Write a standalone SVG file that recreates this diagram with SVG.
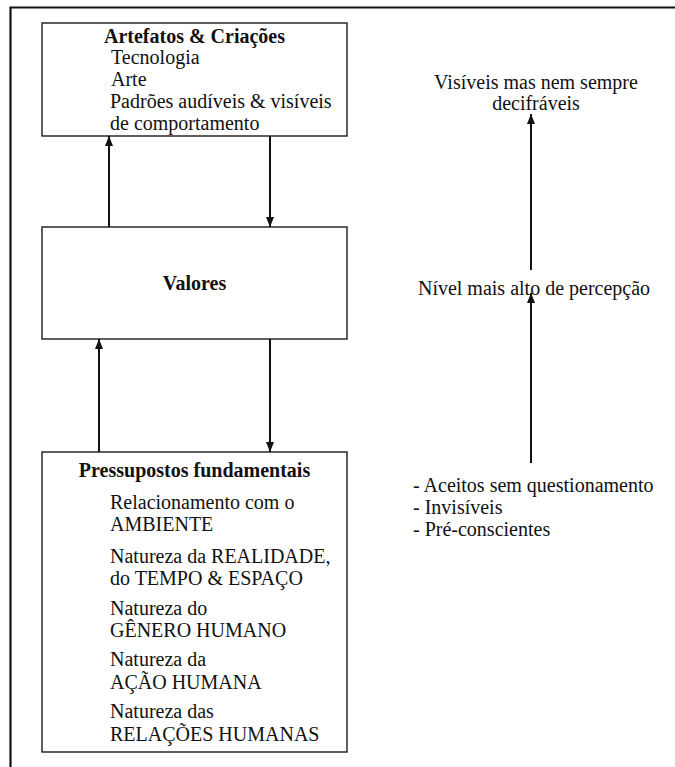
<svg xmlns="http://www.w3.org/2000/svg" width="675" height="767" viewBox="0 0 675 767">
<style>
  .box { fill: #ffffff; stroke: #1a1a1a; stroke-width: 1.4; }
  .frame { stroke: #111; stroke-width: 2.2; fill: none; }
  .t { font-family: "Liberation Serif", "Times New Roman", serif; font-size: 20px; fill: #111; }
  .b { font-weight: bold; }
  .m { text-anchor: middle; }
  .conn { stroke: #111; stroke-width: 2; fill: none; marker-end: url(#ah); }
</style>
<defs>
  <marker id="ah" viewBox="0 0 10 10" refX="10" refY="5" markerWidth="10" markerHeight="10" markerUnits="userSpaceOnUse" orient="auto">
    <path d="M0,1 L10,5 L0,9 Z" fill="#111"/>
  </marker>
</defs>
<rect width="675" height="767" fill="#ffffff"/>
<g id="frame">
  <path class="frame" d="M10.5,767 L10.5,7.5 L675,7.5"/>
</g>
<g id="artefatos">
  <rect class="box" x="42" y="23" width="305" height="113"/>
  <text class="t b m" x="194.5" y="42.5">Artefatos &amp; Criações</text>
  <text class="t" x="111" y="64">Tecnologia</text>
  <text class="t" x="111" y="86">Arte</text>
  <text class="t" x="110" y="108">Padrões audíveis &amp; visíveis</text>
  <text class="t" x="110" y="130">de comportamento</text>
</g>
<g id="valores">
  <rect class="box" x="42" y="227" width="305" height="112"/>
  <text class="t b m" x="194.5" y="290">Valores</text>
</g>
<g id="pressupostos">
  <rect class="box" x="42" y="452" width="305" height="300"/>
  <text class="t b m" x="194.5" y="477">Pressupostos fundamentais</text>
  <text class="t" x="110" y="509">Relacionamento com o</text>
  <text class="t" x="110" y="531">AMBIENTE</text>
  <text class="t" x="110" y="563">Natureza da REALIDADE,</text>
  <text class="t" x="110" y="585">do TEMPO &amp; ESPAÇO</text>
  <text class="t" x="110" y="615">Natureza do</text>
  <text class="t" x="110" y="637">GÊNERO HUMANO</text>
  <text class="t" x="110" y="666">Natureza da</text>
  <text class="t" x="110" y="689">AÇÃO HUMANA</text>
  <text class="t" x="110" y="718">Natureza das</text>
  <text class="t" x="110" y="741">RELAÇÕES HUMANAS</text>
</g>
<g id="visiveis">
  <text class="t m" x="536" y="89">Visíveis mas nem sempre</text>
  <text class="t m" x="536" y="110">decifráveis</text>
</g>
<g id="nivel">
  <text class="t m" x="534" y="295">Nível mais alto de percepção</text>
</g>
<g id="aceitos">
  <text class="t" x="413" y="492">- Aceitos sem questionamento</text>
  <text class="t" x="413" y="514">- Invisíveis</text>
  <text class="t" x="413" y="536">- Pré-conscientes</text>
</g>
<g id="connectors">
  <line class="conn" x1="109" y1="227" x2="109" y2="136"/>
  <line class="conn" x1="270" y1="136" x2="270" y2="227"/>
  <line class="conn" x1="99" y1="452" x2="99" y2="339"/>
  <line class="conn" x1="270" y1="339" x2="270" y2="452"/>
  <line class="conn" x1="531" y1="270" x2="531" y2="114"/>
  <line class="conn" x1="531" y1="463" x2="531" y2="293"/>
</g>
</svg>
